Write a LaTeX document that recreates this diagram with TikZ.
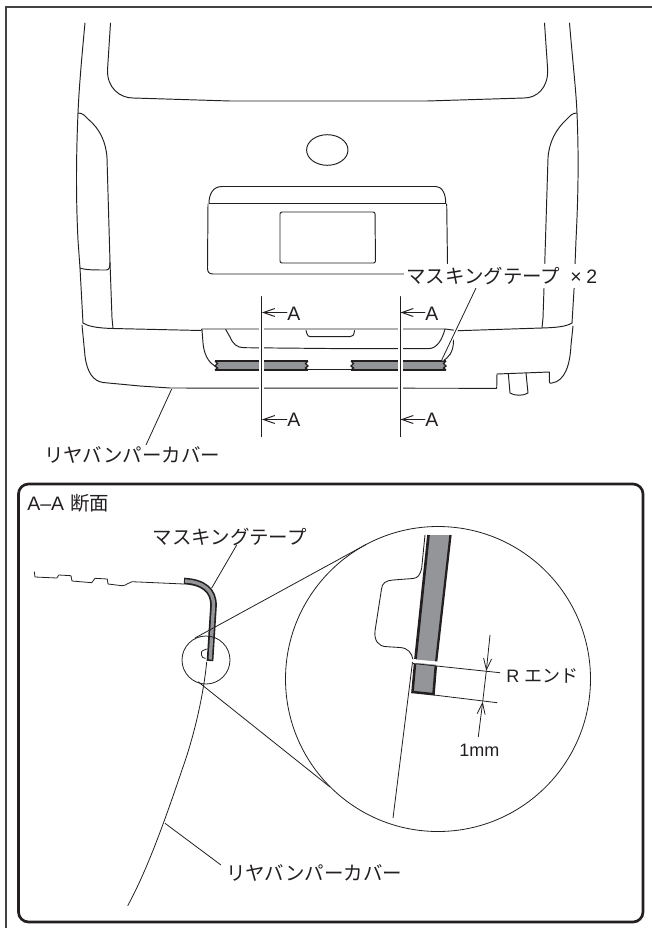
\documentclass[tikz,border=0pt]{standalone}
\usepackage{fontspec}
\setmainfont{Liberation Sans}
\newfontfamily\jp{Noto Sans CJK JP}
\usetikzlibrary{arrows.meta}
\definecolor{ink}{HTML}{231F20}
\definecolor{tapegrey}{HTML}{939598}
\tikzset{
  ln/.style={draw=ink,line width=0.72pt,line cap=round,line join=round},
  thinln/.style={draw=ink,line width=0.6pt},
  frameln/.style={draw=ink!85,line width=1.5pt},
  panel/.style={draw=ink,line width=2pt,rounded corners=7.5pt},
  halo/.style={draw=white,line width=3.4pt},
  lab/.style={anchor=base west,inner sep=0pt,text=ink,font=\fontsize{14.6}{17}\selectfont},
  smalllab/.style={lab,font=\fontsize{13.5}{16}\selectfont},
  tipped/.style={ln,{Straight Barb[length=8.5pt,width=6pt]}-},
  tapeedge/.style={draw=ink,line width=2.1pt,line cap=butt},
}
\newcommand{\flattape}[2]{%
  \fill[tapegrey] (#1,361) -- (#2,361) -- (#2-2.5,363.5) -- (#2,366) -- (#2-2.5,368) -- (#2,370) -- (#1,370) -- (#1+2.5,368) -- (#1,366) -- (#1+2.5,363.5) -- cycle;
  \draw[tapeedge] (#1,361) -- (#2,361);
  \draw[tapeedge] (#1,370) -- (#2,370);
  \draw[ink,line width=1pt] (#2,361) -- (#2-2.5,363.5) -- (#2,366) -- (#2-2.5,368) -- (#2,370);
  \draw[ink,line width=1pt] (#1,361) -- (#1+2.5,363.5) -- (#1,366) -- (#1+2.5,368) -- (#1,370);
}
\begin{document}
\begin{tikzpicture}[x=0.75pt,y=-0.75pt]
\useasboundingbox (0,0) rectangle (652,928);
% outer frame
\draw[frameln] (5.5,928) -- (5.5,7) -- (652,7);
% van body
\draw[ln] (85,23) .. controls (81,65) and (79,90) .. (78,113) .. controls (76,160) and (76,200) .. (78,240) -- (80,268) -- (83,323);
\draw[ln] (569.5,23) .. controls (573,65) and (576,90) .. (577,113) .. controls (579,160) and (578,200) .. (576,240) -- (574,290) -- (572,323);
\draw[ln] (110.5,23) -- (107.5,70) .. controls (107,88) and (120,98) .. (133,98) -- (230,101) -- (427,101) -- (524,98) .. controls (537,98) and (548,88) .. (547.7,70) -- (544.5,23);
% tail lamps
\draw[ln] (78,113) .. controls (83,113) and (85,116) .. (88,119) .. controls (100,129) and (106,142) .. (107,158) -- (110,262) .. controls (110,268) and (109,270) .. (106,270) .. controls (95,270) and (85,270) .. (80,268);
\draw[ln] (110,262) -- (112,318) -- (113,328.5);
\draw[ln] (577,113) .. controls (572,113) and (570,116) .. (567,119) .. controls (556,129) and (549,142) .. (548,158) -- (544,288) -- (543,318) -- (542,328);
% window and plate
\draw[ln] (327.3,150) ellipse [x radius=20.7,y radius=15.3];
\draw[ln] (209,203.5) .. controls (209,194) and (213,186.5) .. (222,186.5) -- (436,186.5) .. controls (442,186.5) and (446,194) .. (445.7,203.5) -- cycle;
\draw[ln] (208,204) -- (207.5,268) .. controls (207.5,272) and (209,274) .. (213,274) -- (404,274);
\draw[ln] (446.7,204) -- (447.5,264);
\draw[ln,rounded corners=1.5pt] (280,263) -- (280,212) -- (375,212) -- (375.5,263) -- cycle;
% bumper
\draw[ln] (83,323) .. controls (88,326) and (95,328) .. (113,328.5) -- (201,330.5) -- (202,329) -- (445,329) -- (458,330.7) -- (542,328) .. controls (558,327.5) and (566,326.5) .. (572,323);
\draw[ln] (82,325) -- (85,356) .. controls (87,372) and (93,381) .. (103,382.5) -- (140,386) -- (170,388) -- (496.7,388.3) -- (497,374) -- (549.3,372) -- (549.3,382) .. controls (549.3,383.5) and (551,383.5) .. (552,383) .. controls (565,381) and (570,365) .. (571,345) -- (573,326);
\draw[ln] (508.3,373.3) -- (510,393) .. controls (514,396) and (524,396) .. (528,393) -- (526,373);
\draw[ln] (202,330) -- (203,343) .. controls (204,354) and (208,362) .. (215,366);
\draw[ln] (442,361) .. controls (449,358) and (453,352) .. (453.5,342) -- (452.5,335);
\draw[ln] (225.7,329.5) -- (230,337) .. controls (233,344) and (237,347.7) .. (244,347.7) -- (350,348.7) -- (428,348.7) .. controls (437,348.7) and (442,340) .. (445,329);
\draw[ln] (306,330.5) -- (307,334) .. controls (307.5,336) and (309,336.7) .. (311,336.7) -- (350,336.7) .. controls (353,336.7) and (354,335) .. (354.5,330.5);
% masking tape
\draw[ln] (308,369.3) -- (351,369.3);
\flattape{215}{308}
\flattape{351}{446}
% label with its white ground
\fill[white] (404,264) rectangle (600,288);
\node[lab] (masktop) at (406,283) {\jp マスキングテープ\hspace{7.5pt}\fontspec{Liberation Sans}×\hspace{3.5pt}2};
\coordinate (maskfrom) at (476,288);
\coordinate (maskto) at (441.7,360);
\draw[halo,line width=2.6pt] (maskfrom) -- (maskto);
\draw[thinln] (maskfrom) -- (maskto);
% section lines
\coordinate (s1a) at (261.7,296.7);
\coordinate (s1b) at (261.7,436.7);
\coordinate (s2a) at (400.3,296.7);
\coordinate (s2b) at (400.3,436.7);
\draw[halo] (s1a) -- (s1b);
\draw[halo] (s2a) -- (s2b);
\draw[ln] (s1a) -- (s1b);
\draw[ln] (s2a) -- (s2b);
\node[lab] (a1) at (287,320) {A};
\node[lab] (a2) at (287,426) {A};
\node[lab] (a3) at (425,320) {A};
\node[lab] (a4) at (425,426) {A};
\coordinate (t1) at (262,312.5);
\coordinate (t2) at (262,419.5);
\coordinate (t3) at (400.5,312.5);
\coordinate (t4) at (400.5,419.5);
\draw[tipped] (t1) -- (a1.west |- t1);
\draw[tipped] (t2) -- (a2.west |- t2);
\draw[tipped] (t3) -- (a3.west |- t3);
\draw[tipped] (t4) -- (a4.west |- t4);
% bumper leader
\node[lab] (rear1) at (44,462) {\jp リヤバンパーカバー};
\coordinate (r1from) at (171.7,389);
\coordinate (r1to) at (146,445);
\draw[thinln] (r1from) -- (r1to);
% panel
\draw[panel] (18.5,484) rectangle (643,922);
\node[lab] (title) at (27,510) {A–A\hspace{4.5pt}\jp 断面};
\node[lab] (mask2) at (152.5,544) {\jp マスキングテープ};
\coordinate (m2from) at (236.7,545);
\coordinate (m2to) at (211.7,588);
\draw[thinln] (m2from) -- (m2to);
% section profile
\draw[ln,line width=0.6pt] (34.3,571.7) -- (35,577) -- (56.7,578) -- (59,575) -- (71,575.7) -- (72,581) -- (91.7,582.7) -- (95,578.3) -- (107.3,579) -- (108,584) -- (122,585.7) .. controls (127,585.7) and (128,582) .. (132,581.7) -- (184,584);
\draw[ink,line width=5pt] (184,581) .. controls (203,582) and (214,590) .. (213.5,606) -- (210,661);
\draw[tapegrey,line width=2.5pt] (185,581) .. controls (203,582) and (214,590) .. (213.5,606) -- (210.2,659.5);
% bumper curve
\draw[thinln] (206.7,662) .. controls (204,690) and (196,730) .. (183,767) .. controls (170,805) and (150,865) .. (127.7,905.7);
\draw[thinln] (206.7,649) -- (203,650.5) .. controls (201.5,651) and (201.5,652) .. (201.5,653) -- (201.5,655) .. controls (201.5,657) and (203,658) .. (205.5,658.5);
% detail circles
\draw[thinln] (206,660) circle [radius=24];
\draw[thinln] (438,679) circle [radius=152.5];
\coordinate (u1) at (195,638);
\coordinate (u2) at (366,544.5);
\coordinate (d1) at (198,681.7);
\coordinate (d2) at (330,787);
\draw[thinln] (u1) -- (u2);
\draw[thinln] (d1) -- (d2);
% detail tape
\fill[tapegrey] (428.5,535) -- (450.5,535) -- (433,694) -- (413,692) -- cycle;
\draw[tapeedge,line width=2pt] (428.5,535) -- (415.5,659);
\draw[tapeedge,line width=1.7pt] (450.5,535) -- (436,663);
\draw[tapeedge,line width=1.9pt] (415,664) -- (412.5,692) -- (433.5,694.2) -- (435.8,666);
% detail outline
\draw[ln,line width=0.65pt] (425,535) -- (421.7,568) .. controls (420,575) and (418,578) .. (413,578.5) -- (393,580) .. controls (386,580.5) and (382,583) .. (381.5,589) -- (375,631) .. controls (374,640) and (378,646.7) .. (387,646.7) -- (400,647.5) .. controls (408,648) and (412,653) .. (413,660);
\draw[draw=white,line width=2.4pt] (411,660.7) -- (438,663.2);
\draw[thinln] (412.5,662) -- (393,818);
% R end and 1 mm
\node[smalllab] (rend) at (506,682) {R\hspace{4pt}\jp エンド};
\node[smalllab] (onemm) at (459,756) {1mm};
\coordinate (g1) at (413,663.5);
\coordinate (g2) at (500,672.7);
\coordinate (e1) at (434,695);
\coordinate (e2) at (497.3,702.7);
\draw[thinln] (g1) -- (g2);
\draw[thinln] (e1) -- (e2);
\coordinate (p1) at (490,635);
\coordinate (p2) at (486.3,671);
\coordinate (p3) at (482.7,701.7);
\coordinate (p4) at (478.3,736.7);
\draw[tipped,thinln] (p2) -- (p1);
\draw[tipped,thinln] (p3) -- (p4);
\draw[thinln] (p2) -- (p3);
% lower leader
\node[lab] (rear2) at (226,880) {\jp リヤバンパーカバー};
\coordinate (r2from) at (165,823.3);
\coordinate (r2to) at (221,865);
\draw[thinln] (r2from) -- (r2to);
\end{tikzpicture}
\end{document}
